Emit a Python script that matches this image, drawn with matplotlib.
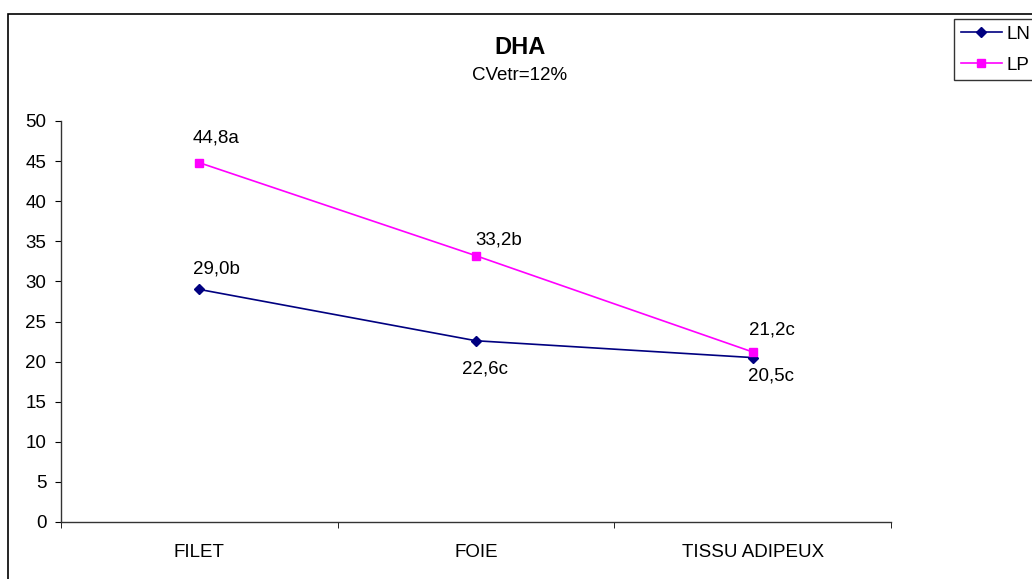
import matplotlib
matplotlib.use("Agg")
import matplotlib.pyplot as plt
from matplotlib.patches import Rectangle
import numpy as np

plt.rcParams['font.family'] = ['Liberation Sans', 'DejaVu Sans']

categories = ["FILET", "FOIE", "TISSU ADIPEUX"]
ln_values = [29.0, 22.6, 20.5]
lp_values = [44.8, 33.2, 21.2]
ln_labels = ["29,0b", "22,6c", "20,5c"]
lp_labels = ["44,8a", "33,2b", "21,2c"]
y_ticks = list(range(0, 55, 5))

W, H = 1032, 579
FS = 13.5
fig = plt.figure(figsize=(W / 100, H / 100), dpi=100)

# chart area border (runs off the right and bottom edges)
fig.patches.append(Rectangle((8 / W, -0.05), 1.1, 1 - 14 / H + 0.05,
                             transform=fig.transFigure, fill=False,
                             edgecolor="black", linewidth=1.2, clip_on=False))

ax = fig.add_axes([61 / W, 1 - 522 / H, 830 / W, 401 / H])
x = np.arange(len(categories))

ln_line, = ax.plot(x, ln_values, color="#000080", marker="D", markersize=5.5,
                   linewidth=1.2, label="LN")
lp_line, = ax.plot(x, lp_values, color="#FF00FF", marker="s", markersize=6,
                   linewidth=1.2, label="LP")

# value labels (offsets in points)
ln_offsets = [(12, 15), (6.5, -20), (13, -13)]
lp_offsets = [(12, 18), (16.5, 11.5), (14, 16)]
for xi, v, lab, off in zip(x, ln_values, ln_labels, ln_offsets):
    ax.annotate(lab, (xi, v), xytext=off, textcoords="offset points",
                ha="center", va="center", fontsize=FS)
for xi, v, lab, off in zip(x, lp_values, lp_labels, lp_offsets):
    ax.annotate(lab, (xi, v), xytext=off, textcoords="offset points",
                ha="center", va="center", fontsize=FS)

ax.set_xlim(-0.5, len(categories) - 0.5)
ax.set_ylim(0, 50)
ax.set_yticks(y_ticks)
ax.tick_params(axis="y", direction="out", length=4.5, labelsize=FS, pad=6)
ax.set_xticks(x)
ax.set_xticklabels(categories)
ax.set_xticks(np.arange(len(categories) + 1) - 0.5, minor=True)
ax.tick_params(axis="x", which="major", length=0, labelsize=FS, pad=16)
ax.tick_params(axis="x", which="minor", direction="out", length=4.5)
for s in ["top", "right"]:
    ax.spines[s].set_visible(False)
for s in ["left", "bottom"]:
    ax.spines[s].set_linewidth(1.0)
    ax.spines[s].set_color("#333333")

fig.text(520 / W, 1 - 47 / H, "DHA", ha="center", va="center",
         fontsize=17, fontweight="bold")
fig.text(520 / W, 1 - 76 / H, "CVetr=12%", ha="center", va="center",
         fontsize=FS)

leg = fig.legend(handles=[ln_line, lp_line], loc="upper left",
                 bbox_to_anchor=(954 / W, 1 - 19 / H), fontsize=FS,
                 frameon=True, fancybox=False, handlelength=2.2,
                 handletextpad=0.25, labelspacing=0.75, borderpad=0.35,
                 borderaxespad=0)
leg.get_frame().set_edgecolor("black")
leg.get_frame().set_linewidth(1.0)

fig.savefig("out.png", dpi=100)
